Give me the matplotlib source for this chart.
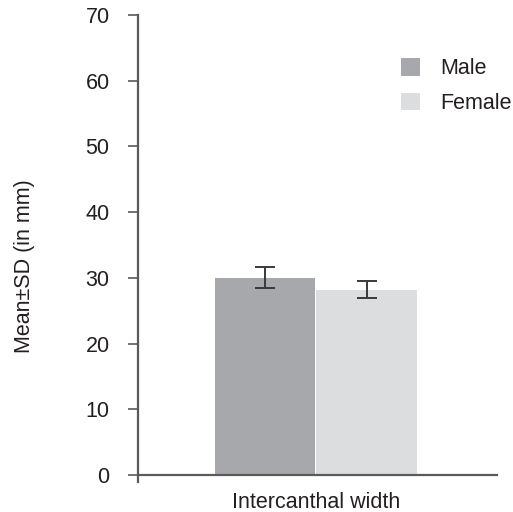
import matplotlib
matplotlib.use("Agg")
import matplotlib.pyplot as plt
from matplotlib.patches import Patch

plt.rcParams['font.family'] = ['Liberation Sans', 'DejaVu Sans']

groups = ["Male", "Female"]
means = [30.0, 28.2]
sds = [1.6, 1.3]
category = "Intercanthal width"
yticks = [0, 10, 20, 30, 40, 50, 60, 70]
colors = ["#a7a8ab", "#dcdddf"]
ylabel = "Mean\u00b1SD (in mm)"

W, H = 513, 512
fig = plt.figure(figsize=(W / 100, H / 100), dpi=100)
y70, y0, ybot = 15, 475, 482
ppu = (y0 - y70) / 70
ymin = -(ybot - y0) / ppu
ax = fig.add_axes([138 / W, (H - ybot) / H, (497 - 138) / W, (ybot - y70) / H])

fs = 15.5
xpos = [-0.5, 0.5]
axis_col = "#5a5a5a"
text_col = "#231f20"
for x, m, s, c in zip(xpos, means, sds, colors):
    ax.bar(x, m, width=0.99, color=c, edgecolor="none")
    ax.errorbar(x, m, yerr=s, fmt="none", ecolor="#3a3a3a", elinewidth=1.4,
                capsize=7, capthick=1.4)

ax.set_xlim(-1.76, 1.79)
ax.set_ylim(ymin, 70)
ax.spines['top'].set_visible(False)
ax.spines['right'].set_visible(False)
ax.spines['bottom'].set_position(('data', 0))
for sp in ['left', 'bottom']:
    ax.spines[sp].set_color(axis_col)
    ax.spines[sp].set_linewidth(1.6)
ax.set_yticks(yticks)
ax.tick_params(axis='y', length=7.5, width=1.2, color=axis_col, labelsize=fs,
               labelcolor=text_col, pad=13)
ax.set_xticks([])
ax.text(0.0, -2.6, category, ha='center', va='top', fontsize=fs, color=text_col,
        transform=ax.transData, clip_on=False)
fig.text(25 / W, 1 - 266 / H, ylabel, rotation=90, ha='center', va='center',
         fontsize=fs, color=text_col)

handles = [Patch(facecolor=c, edgecolor='none') for c in colors]
leg = ax.legend(handles, groups, loc='upper left',
                bbox_to_anchor=((402 - 138) / (497 - 138) - 0.02, (ybot - 52) / (ybot - y70)),
                frameon=False, fontsize=fs, handlelength=0.85, handleheight=0.85,
                handletextpad=0.95, labelspacing=0.62, borderaxespad=0, borderpad=0.3)
for t in leg.get_texts():
    t.set_color(text_col)

fig.savefig("out.png", dpi=100)
